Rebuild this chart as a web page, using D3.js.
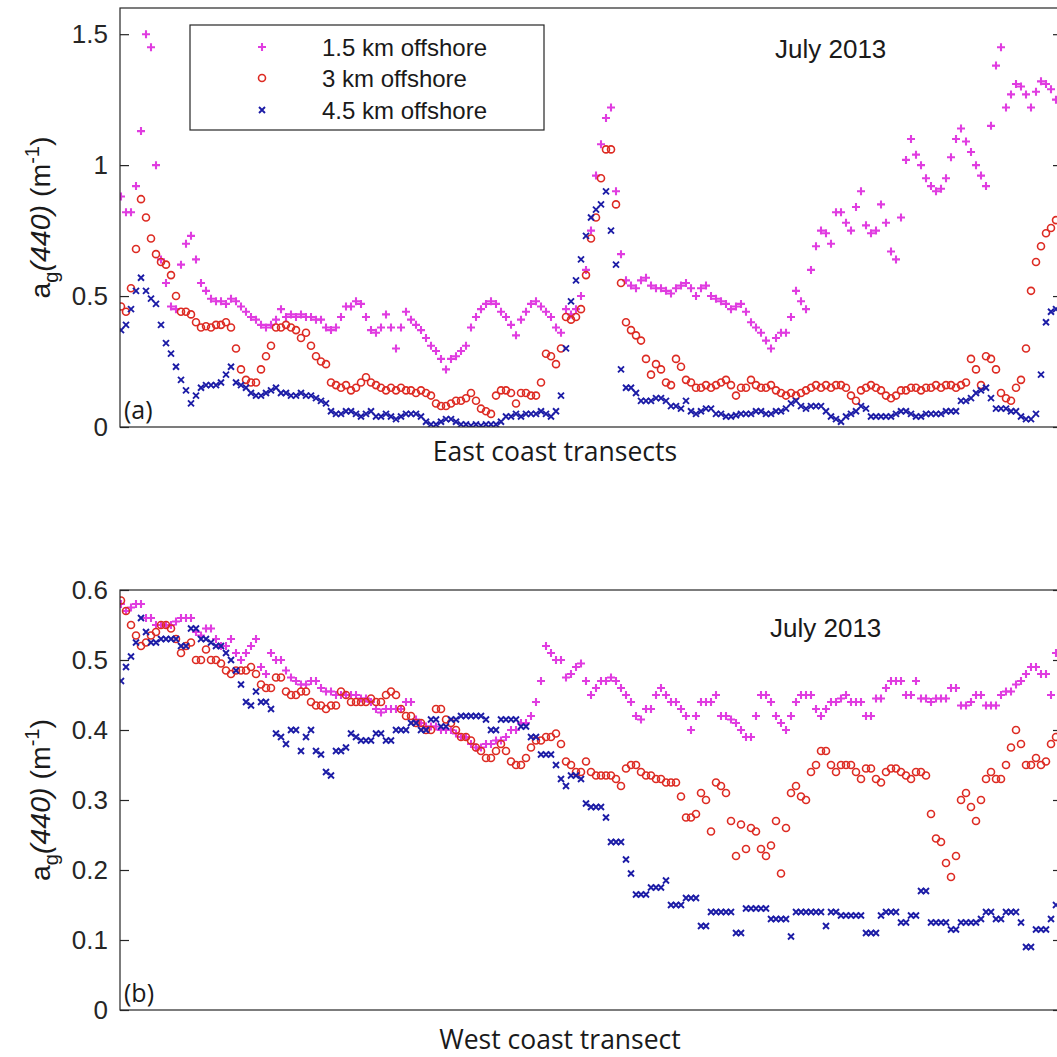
<!DOCTYPE html>
<html>
<head>
<meta charset="utf-8">
<script src="https://cdn.jsdelivr.net/npm/d3@7"></script>
<style>
  html, body { margin: 0; padding: 0; background: #fff; }
  svg { display: block; }
</style>
</head>
<body>
<svg id="chart" width="1057" height="1057"></svg>
<script>
// Series labels (legend order = drawing order)
const seriesNames = ["1.5 km offshore", "3 km offshore", "4.5 km offshore"];
const panelTitles = ["July 2013", "July 2013"];
const panelTags = ["(a)", "(b)"];
const panelXLabels = ["East coast transects", "West coast transect"];
const ticksA = [0, 0.5, 1, 1.5];
const ticksB = [0, 0.1, 0.2, 0.3, 0.4, 0.5, 0.6];

// (a) East coast: a_g(440), one value per along-track sample
const eastNear = [
  0.88, 0.82, 0.82, 0.92, 1.13, 1.50, 1.45, 1.00, 0.64, 0.55,
  0.46, 0.45, 0.62, 0.70, 0.73, 0.64, 0.55, 0.52, 0.49, 0.48,
  0.48, 0.47, 0.49, 0.48, 0.46, 0.44, 0.42, 0.41, 0.39, 0.38,
  0.39, 0.41, 0.45, 0.42, 0.43, 0.42, 0.43, 0.42, 0.42, 0.41,
  0.41, 0.38, 0.37, 0.38, 0.42, 0.46, 0.46, 0.48, 0.47, 0.42,
  0.37, 0.36, 0.38, 0.43, 0.38, 0.30, 0.38, 0.44, 0.41, 0.39,
  0.37, 0.34, 0.31, 0.29, 0.26, 0.22, 0.26, 0.27, 0.29, 0.31,
  0.38, 0.42, 0.45, 0.47, 0.48, 0.47, 0.44, 0.42, 0.39, 0.35,
  0.41, 0.44, 0.47, 0.48, 0.46, 0.44, 0.42, 0.38, 0.36, 0.45,
  0.43, 0.45, 0.50, 0.60, 0.75, 0.96, 1.08, 1.18, 1.22, 0.90,
  0.66, 0.56, 0.54, 0.53, 0.56, 0.57, 0.54, 0.53, 0.53, 0.52,
  0.51, 0.53, 0.54, 0.55, 0.53, 0.50, 0.53, 0.54, 0.50, 0.49,
  0.48, 0.47, 0.45, 0.46, 0.47, 0.44, 0.40, 0.38, 0.36, 0.33,
  0.30, 0.34, 0.36, 0.36, 0.42, 0.52, 0.48, 0.45, 0.60, 0.69,
  0.75, 0.74, 0.70, 0.82, 0.82, 0.78, 0.75, 0.84, 0.90, 0.77,
  0.74, 0.75, 0.85, 0.78, 0.67, 0.64, 0.80, 1.02, 1.10, 1.04,
  1.00, 0.95, 0.92, 0.90, 0.91, 0.95, 1.03, 1.10, 1.14, 1.09,
  1.05, 1.00, 0.96, 0.92, 1.15, 1.38, 1.45, 1.22, 1.27, 1.31,
  1.30, 1.27, 1.22, 1.28, 1.32, 1.31, 1.29, 1.25
];
const eastMid = [
  0.46, 0.44, 0.53, 0.68, 0.87, 0.80, 0.72, 0.66, 0.63, 0.62,
  0.58, 0.50, 0.44, 0.44, 0.43, 0.40, 0.38, 0.385, 0.38, 0.39,
  0.39, 0.40, 0.38, 0.30, 0.22, 0.18, 0.17, 0.17, 0.22, 0.27,
  0.31, 0.38, 0.38, 0.39, 0.38, 0.37, 0.34, 0.36, 0.31, 0.27,
  0.25, 0.24, 0.17, 0.16, 0.15, 0.16, 0.14, 0.15, 0.17, 0.19,
  0.17, 0.16, 0.15, 0.14, 0.15, 0.14, 0.15, 0.14, 0.14, 0.13,
  0.14, 0.13, 0.12, 0.09, 0.08, 0.08, 0.09, 0.10, 0.10, 0.11,
  0.13, 0.10, 0.07, 0.06, 0.05, 0.12, 0.14, 0.14, 0.13, 0.09,
  0.13, 0.13, 0.12, 0.12, 0.17, 0.28, 0.27, 0.24, 0.30, 0.42,
  0.41, 0.42, 0.45, 0.58, 0.72, 0.80, 0.95, 1.06, 1.06, 0.85,
  0.55, 0.40, 0.37, 0.35, 0.33, 0.26, 0.20, 0.24, 0.22, 0.17,
  0.16, 0.26, 0.23, 0.18, 0.17, 0.15, 0.15, 0.16, 0.15, 0.16,
  0.17, 0.18, 0.16, 0.12, 0.15, 0.15, 0.18, 0.16, 0.15, 0.15,
  0.16, 0.14, 0.13, 0.12, 0.13, 0.12, 0.13, 0.14, 0.15, 0.16,
  0.15, 0.16, 0.15, 0.16, 0.16, 0.15, 0.12, 0.10, 0.14, 0.15,
  0.16, 0.15, 0.14, 0.12, 0.11, 0.12, 0.14, 0.14, 0.15, 0.15,
  0.14, 0.15, 0.15, 0.16, 0.15, 0.16, 0.16, 0.15, 0.16, 0.17,
  0.26, 0.22, 0.16, 0.27, 0.26, 0.22, 0.13, 0.11, 0.10, 0.15,
  0.18, 0.30, 0.52, 0.63, 0.69, 0.74, 0.76, 0.79
];
const eastFar = [
  0.37, 0.39, 0.45, 0.52, 0.57, 0.52, 0.49, 0.47, 0.39, 0.32,
  0.28, 0.23, 0.18, 0.14, 0.09, 0.12, 0.15, 0.16, 0.16, 0.16,
  0.17, 0.20, 0.23, 0.17, 0.16, 0.15, 0.13, 0.12, 0.12, 0.13,
  0.14, 0.15, 0.13, 0.13, 0.12, 0.12, 0.13, 0.12, 0.12, 0.11,
  0.10, 0.09, 0.06, 0.05, 0.05, 0.06, 0.06, 0.05, 0.04, 0.05,
  0.06, 0.04, 0.04, 0.05, 0.04, 0.03, 0.04, 0.05, 0.05, 0.05,
  0.04, 0.02, 0.01, 0.01, 0.02, 0.03, 0.03, 0.02, 0.01, 0.01,
  0.005, 0.01, 0.005, 0.01, 0.01, 0.01, 0.02, 0.04, 0.04, 0.05,
  0.04, 0.05, 0.05, 0.05, 0.06, 0.05, 0.04, 0.06, 0.12, 0.30,
  0.48, 0.56, 0.64, 0.73, 0.80, 0.83, 0.85, 0.90, 0.75, 0.62,
  0.22, 0.15, 0.15, 0.13, 0.10, 0.10, 0.10, 0.11, 0.11, 0.10,
  0.08, 0.08, 0.07, 0.10, 0.06, 0.05, 0.06, 0.07, 0.07, 0.05,
  0.05, 0.04, 0.04, 0.045, 0.05, 0.05, 0.05, 0.06, 0.06, 0.05,
  0.05, 0.06, 0.06, 0.07, 0.09, 0.10, 0.08, 0.07, 0.08, 0.08,
  0.08, 0.06, 0.04, 0.03, 0.02, 0.04, 0.05, 0.06, 0.08, 0.07,
  0.04, 0.04, 0.04, 0.04, 0.04, 0.05, 0.06, 0.06, 0.05, 0.04,
  0.04, 0.05, 0.05, 0.05, 0.05, 0.06, 0.06, 0.06, 0.10, 0.10,
  0.11, 0.13, 0.14, 0.15, 0.11, 0.07, 0.07, 0.07, 0.06, 0.06,
  0.04, 0.03, 0.03, 0.05, 0.20, 0.40, 0.44, 0.45
];

// (b) West coast: a_g(440), one value per along-track sample
const westNear = [
  0.58, 0.57, 0.575, 0.58, 0.58, 0.56, 0.56, 0.55, 0.55, 0.55,
  0.55, 0.555, 0.56, 0.56, 0.56, 0.54, 0.535, 0.545, 0.545, 0.53,
  0.52, 0.52, 0.53, 0.51, 0.50, 0.51, 0.52, 0.53, 0.49, 0.48,
  0.51, 0.50, 0.50, 0.485, 0.475, 0.47, 0.465, 0.465, 0.47, 0.47,
  0.46, 0.455, 0.455, 0.45, 0.45, 0.45, 0.45, 0.45, 0.445, 0.445,
  0.44, 0.43, 0.425, 0.43, 0.43, 0.43, 0.43, 0.44, 0.44, 0.415,
  0.41, 0.405, 0.405, 0.405, 0.40, 0.40, 0.40, 0.395, 0.39, 0.39,
  0.38, 0.375, 0.375, 0.38, 0.38, 0.385, 0.385, 0.39, 0.40, 0.40,
  0.41, 0.41, 0.42, 0.44, 0.47, 0.52, 0.51, 0.50, 0.50, 0.475,
  0.48, 0.49, 0.495, 0.47, 0.45, 0.46, 0.47, 0.47, 0.475, 0.47,
  0.46, 0.45, 0.44, 0.42, 0.415, 0.43, 0.43, 0.45, 0.46, 0.45,
  0.44, 0.44, 0.43, 0.42, 0.40, 0.42, 0.44, 0.44, 0.44, 0.45,
  0.42, 0.42, 0.415, 0.41, 0.40, 0.39, 0.39, 0.42, 0.45, 0.45,
  0.44, 0.42, 0.41, 0.40, 0.42, 0.44, 0.45, 0.45, 0.45, 0.43,
  0.42, 0.43, 0.44, 0.44, 0.445, 0.45, 0.44, 0.44, 0.44, 0.42,
  0.42, 0.445, 0.445, 0.46, 0.47, 0.47, 0.47, 0.45, 0.45, 0.47,
  0.445, 0.445, 0.44, 0.445, 0.445, 0.445, 0.46, 0.46, 0.435, 0.435,
  0.44, 0.45, 0.45, 0.435, 0.435, 0.435, 0.45, 0.455, 0.455, 0.465,
  0.47, 0.48, 0.49, 0.49, 0.48, 0.48, 0.45, 0.51
];
const westMid = [
  0.585, 0.57, 0.55, 0.535, 0.52, 0.525, 0.535, 0.54, 0.55, 0.55,
  0.545, 0.53, 0.51, 0.52, 0.525, 0.50, 0.50, 0.515, 0.50, 0.50,
  0.495, 0.485, 0.48, 0.485, 0.485, 0.485, 0.49, 0.48, 0.465, 0.46,
  0.46, 0.475, 0.475, 0.455, 0.45, 0.45, 0.455, 0.455, 0.44, 0.435,
  0.435, 0.43, 0.435, 0.435, 0.455, 0.45, 0.44, 0.44, 0.44, 0.44,
  0.445, 0.44, 0.44, 0.45, 0.455, 0.45, 0.43, 0.42, 0.42, 0.41,
  0.41, 0.40, 0.40, 0.43, 0.43, 0.415, 0.41, 0.40, 0.39, 0.39,
  0.385, 0.375, 0.37, 0.36, 0.36, 0.37, 0.38, 0.37, 0.355, 0.35,
  0.35, 0.36, 0.375, 0.385, 0.385, 0.39, 0.39, 0.395, 0.38, 0.355,
  0.35, 0.34, 0.34, 0.355, 0.34, 0.335, 0.335, 0.335, 0.335, 0.33,
  0.32, 0.345, 0.35, 0.35, 0.34, 0.335, 0.335, 0.33, 0.33, 0.325,
  0.325, 0.325, 0.305, 0.275, 0.275, 0.28, 0.31, 0.30, 0.255, 0.325,
  0.32, 0.31, 0.27, 0.22, 0.265, 0.23, 0.26, 0.255, 0.23, 0.22,
  0.235, 0.27, 0.195, 0.26, 0.31, 0.32, 0.305, 0.30, 0.34, 0.35,
  0.37, 0.37, 0.35, 0.34, 0.35, 0.35, 0.35, 0.34, 0.33, 0.345,
  0.345, 0.33, 0.325, 0.34, 0.345, 0.345, 0.34, 0.335, 0.33, 0.34,
  0.34, 0.335, 0.28, 0.245, 0.24, 0.21, 0.19, 0.22, 0.30, 0.31,
  0.29, 0.27, 0.30, 0.33, 0.34, 0.33, 0.33, 0.35, 0.375, 0.40,
  0.38, 0.35, 0.35, 0.36, 0.35, 0.355, 0.38, 0.39
];
const westFar = [
  0.47, 0.49, 0.505, 0.525, 0.56, 0.54, 0.525, 0.525, 0.53, 0.53,
  0.53, 0.53, 0.52, 0.52, 0.545, 0.545, 0.53, 0.53, 0.525, 0.52,
  0.52, 0.51, 0.50, 0.485, 0.465, 0.44, 0.435, 0.455, 0.44, 0.44,
  0.43, 0.395, 0.39, 0.38, 0.40, 0.40, 0.37, 0.39, 0.40, 0.37,
  0.365, 0.34, 0.335, 0.37, 0.37, 0.375, 0.395, 0.39, 0.385, 0.385,
  0.385, 0.395, 0.395, 0.385, 0.385, 0.40, 0.40, 0.40, 0.41, 0.41,
  0.40, 0.40, 0.415, 0.415, 0.405, 0.405, 0.415, 0.415, 0.42, 0.42,
  0.42, 0.42, 0.42, 0.415, 0.40, 0.40, 0.415, 0.415, 0.415, 0.415,
  0.405, 0.405, 0.39, 0.39, 0.365, 0.365, 0.365, 0.35, 0.33, 0.32,
  0.335, 0.335, 0.33, 0.295, 0.29, 0.29, 0.29, 0.275, 0.24, 0.24,
  0.24, 0.215, 0.195, 0.165, 0.165, 0.165, 0.175, 0.175, 0.175, 0.185,
  0.15, 0.15, 0.15, 0.16, 0.16, 0.16, 0.12, 0.12, 0.14, 0.14,
  0.14, 0.14, 0.14, 0.11, 0.11, 0.145, 0.145, 0.145, 0.145, 0.145,
  0.13, 0.13, 0.13, 0.13, 0.105, 0.14, 0.14, 0.14, 0.14, 0.14,
  0.14, 0.12, 0.14, 0.14, 0.135, 0.135, 0.135, 0.135, 0.135, 0.11,
  0.11, 0.11, 0.135, 0.14, 0.14, 0.14, 0.125, 0.125, 0.135, 0.135,
  0.17, 0.17, 0.125, 0.125, 0.125, 0.125, 0.115, 0.115, 0.125, 0.125,
  0.125, 0.125, 0.13, 0.14, 0.14, 0.13, 0.13, 0.14, 0.14, 0.14,
  0.125, 0.09, 0.09, 0.115, 0.115, 0.115, 0.13, 0.15
];

const colors = ["#e03ce0", "#dd2a22", "#1c1ca6"];
const INK = "#262626";
const TICK_FONT = "'Liberation Sans', Arial, sans-serif";
const LABEL_FONT = "'Open Sans', 'Liberation Sans', sans-serif";

const svg = d3.select("#chart");

// marker shapes: plus, circle, cross
function drawMarkers(g, data, kind, color, x, y) {
  const sel = g.selectAll(null).data(data).enter();
  if (kind === 0) {
    sel.append("path")
      .attr("d", "M-4,0H4M0,-4V4")
      .attr("transform", (d, i) => `translate(${x(i)},${y(d)})`)
      .attr("stroke", color).attr("stroke-width", 2.1).attr("fill", "none");
  } else if (kind === 1) {
    sel.append("circle")
      .attr("cx", (d, i) => x(i)).attr("cy", d => y(d)).attr("r", 3.5)
      .attr("stroke", color).attr("stroke-width", 1.6).attr("fill", "none");
  } else {
    sel.append("path")
      .attr("d", "M-3,-3L3,3M-3,3L3,-3")
      .attr("transform", (d, i) => `translate(${x(i)},${y(d)})`)
      .attr("stroke", color).attr("stroke-width", 1.9).attr("fill", "none");
  }
}

function panel(opt) {
  const left = 120, right = 1062;
  const x = d3.scaleLinear().domain([0, 188]).range([121, 1061]);
  const y = d3.scaleLinear().domain(opt.domain).range([opt.bottom, opt.top]);
  const g = svg.append("g");

  // data markers
  const clip = "clip" + opt.id;
  svg.append("clipPath").attr("id", clip)
    .append("rect").attr("x", left).attr("y", opt.top - 4)
    .attr("width", right - left).attr("height", opt.bottom - opt.top + 4);
  const plot = g.append("g").attr("clip-path", `url(#${clip})`);
  opt.series.forEach((s, k) => drawMarkers(plot.append("g"), s, k, colors[k], x, y));

  // axes box
  g.append("rect").attr("x", left).attr("y", opt.top)
    .attr("width", right - left).attr("height", opt.bottom - opt.top)
    .attr("fill", "none").attr("stroke", INK).attr("stroke-width", 1.2);

  const fmt = d => d === 0 ? "0" : d3.format("~g")(d);
  const ax = g.append("g").attr("transform", `translate(${left},0)`)
    .call(d3.axisLeft(y).tickValues(opt.ticks).tickFormat(fmt)
      .tickSizeInner(-9).tickSizeOuter(0).tickPadding(12));
  ax.select(".domain").remove();
  ax.selectAll("line").attr("stroke", INK).attr("stroke-width", 1.2);
  ax.selectAll("text").attr("fill", INK).style("font-family", TICK_FONT).style("font-size", "26px");

  const axr = g.append("g").attr("transform", `translate(${right},0)`)
    .call(d3.axisRight(y).tickValues(opt.ticks).tickFormat("")
      .tickSizeInner(-9).tickSizeOuter(0));
  axr.select(".domain").remove();
  axr.selectAll("line").attr("stroke", INK).attr("stroke-width", 1.2);

  // y label: a_g(440) (m^-1)
  const yl = g.append("text")
    .attr("transform", `translate(${opt.ylabX},${(opt.top + opt.bottom) / 2}) rotate(-90)`)
    .attr("text-anchor", "middle").attr("fill", "#1a1a1a")
    .style("font-family", TICK_FONT).style("font-size", "28.5px");
  yl.append("tspan").text("a");
  yl.append("tspan").attr("dy", 8).style("font-size", "20px").text("g");
  yl.append("tspan").attr("dy", -8).style("font-style", "italic").text("(440)");
  yl.append("tspan").text(" (m");
  yl.append("tspan").attr("dy", -11).style("font-size", "20px").text("-1");
  yl.append("tspan").attr("dy", 11).text(")");

  // x label
  g.append("text").attr("x", opt.xlabX).attr("y", opt.xlabY)
    .attr("text-anchor", "middle").attr("fill", "#1a1a1a")
    .style("font-family", LABEL_FONT).style("font-size", "26.5px")
    .text(opt.xlabel);

  // panel title & tag
  g.append("text").attr("x", opt.titleX).attr("y", opt.titleY)
    .attr("fill", "#1a1a1a").style("font-family", TICK_FONT).style("font-size", "26px")
    .text(opt.title);
  g.append("text").attr("x", 124).attr("y", opt.bottom - 8)
    .attr("fill", "#1a1a1a").style("font-family", LABEL_FONT).style("font-size", "25px")
    .text(opt.tag);
  return { x, y, g };
}

panel({
  id: "a", top: 8, bottom: 427, domain: [0, 1.6], ticks: ticksA,
  series: [eastNear, eastMid, eastFar],
  ylabX: 50, xlabel: panelXLabels[0], xlabX: 555, xlabY: 461,
  title: panelTitles[0], titleX: 775, titleY: 58, tag: panelTags[0]
});
panel({
  id: "b", top: 590, bottom: 1010, domain: [0, 0.6], ticks: ticksB,
  series: [westNear, westMid, westFar],
  ylabX: 50, xlabel: panelXLabels[1], xlabX: 560, xlabY: 1049,
  title: panelTitles[1], titleX: 770, titleY: 637, tag: panelTags[1]
});

// legend for panel (a)
const lg = svg.append("g");
lg.append("rect").attr("x", 190).attr("y", 25).attr("width", 354).attr("height", 105)
  .attr("fill", "#fff").attr("stroke", INK).attr("stroke-width", 1.2);
const rowY = [47, 78, 110];
seriesNames.forEach((name, k) => {
  drawMarkers(lg.append("g"), [0], k, colors[k], () => 262, () => rowY[k]);
  lg.append("text").attr("x", 322).attr("y", rowY[k] + 8.5)
    .attr("fill", "#1a1a1a").style("font-family", TICK_FONT).style("font-size", "24px")
    .text(name);
});
</script>
</body>
</html>
